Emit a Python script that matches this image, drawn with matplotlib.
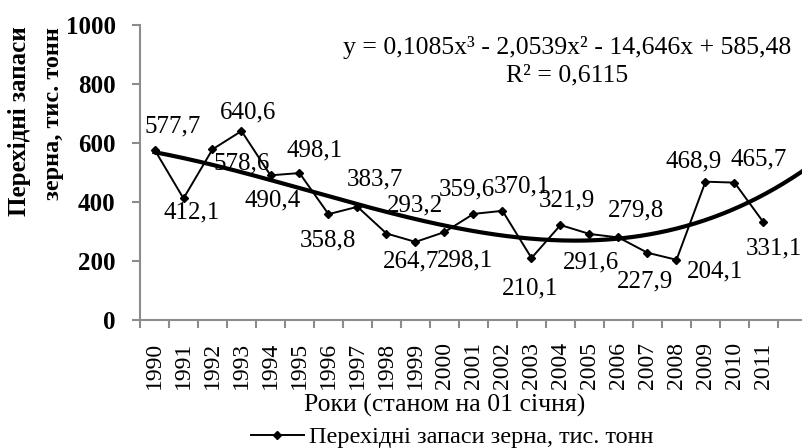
import numpy as np
import matplotlib
matplotlib.use('Agg')
import matplotlib.pyplot as plt
from matplotlib.lines import Line2D

plt.rcParams['font.family'] = ['Liberation Serif', 'DejaVu Serif']

# === DATI ===
anni = ['1990', '1991', '1992', '1993', '1994', '1995', '1996', '1997', '1998',
        '1999', '2000', '2001', '2002', '2003', '2004', '2005', '2006', '2007',
        '2008', '2009', '2010', '2011']
zapasy = [577.7, 412.1, 578.6, 640.6, 490.4, 498.1, 358.8, 383.7, 293.2,
          264.7, 298.1, 359.6, 370.1, 210.1, 321.9, 291.6, 279.8, 227.9,
          204.1, 468.9, 465.7, 331.1]
trend_coef = [0.1085, -2.0539, -14.646, 585.48]   # y = a x^3 + b x^2 + c x + d
r2 = 0.6115

# spostamento etichette (px) rispetto al punto
label_off = [(18, 23), (8, -14), (29, -14), (7, 19), (2, -25), (15, 23),
             (-1, -26), (17, 27), (29, 28), (-4, -20), (21, -28), (-7, 24),
             (19, 24), (-1, -30), (6, 25), (2, -28), (18, 27), (-2, -29),
             (39, -12), (-12, 20), (24, 23), (10, -26)]

TEXT_COLOR = 'black'
AXIS_COLOR = '#8c8c8c'

fig = plt.figure(figsize=(8.02, 4.48), dpi=100)
ax = fig.add_axes([140 / 802, 128 / 448, 667 / 802, 295 / 448])

x = np.arange(1, len(anni) + 1)
ax.plot(x, zapasy, color='black', linewidth=1.4, marker='D', markersize=4,
        zorder=3)

xt = np.linspace(1, 24, 300)
ax.plot(xt, np.polyval(trend_coef, xt), color='black', linewidth=3, zorder=2)

for xi, v, (dx, dy) in zip(x, zapasy, label_off):
    ax.annotate(f'{v:.1f}'.replace('.', ','), (xi, v),
                xytext=(dx * 0.72, dy * 0.72), textcoords='offset points',
                ha='center', va='center', fontsize=18, color=TEXT_COLOR,
                zorder=4)

ax.set_xlim(0.5, 23.5)
ax.set_ylim(0, 1000)
ax.set_yticks([0, 200, 400, 600, 800, 1000])
ax.set_xticks(x)
ax.set_xticklabels(anni, rotation=90, fontsize=17)
ax.set_xticks(np.arange(0.5, 24, 1), minor=True)
ax.tick_params(axis='x', which='major', length=0, pad=16)
ax.tick_params(axis='x', which='minor', length=5.5, width=1.5,
               color=AXIS_COLOR, direction='out')
ax.tick_params(axis='y', length=5.5, width=1.5, color=AXIS_COLOR,
               labelsize=18, pad=12)
for lab in ax.get_yticklabels():
    lab.set_fontweight('bold')

for s in ['top', 'right']:
    ax.spines[s].set_visible(False)
for s in ['left', 'bottom']:
    ax.spines[s].set_color(AXIS_COLOR)
    ax.spines[s].set_linewidth(1.5)

# titolo asse Y (due righe)
fig.text(20 / 802, 1 - 121 / 448, 'Перехідні запаси', rotation=90,
         ha='center', va='center', fontsize=18, fontweight='bold')
fig.text(53 / 802, 1 - 114 / 448, 'зерна, тис. тонн', rotation=90,
         ha='center', va='center', fontsize=17.5, fontweight='bold')

fig.text(445 / 802, 1 - 405 / 448, 'Роки (станом на 01 січня)',
         ha='center', va='center', fontsize=18.5)

coef_txt = ('y = 0,1085x³ - 2,0539x² - 14,646x + 585,48\nR² = '
            + f'{r2:.4f}'.replace('.', ','))
fig.text(567 / 802, 1 - 61 / 448, coef_txt, ha='center', va='center',
         multialignment='center', fontsize=18.5, linespacing=1.3)

h = Line2D([], [], color='black', linewidth=1.4, marker='D', markersize=4)
fig.legend(handles=[h], labels=['Перехідні запаси зерна, тис. тонн'],
           loc='center', bbox_to_anchor=(452 / 802, 1 - 437 / 448),
           frameon=False, fontsize=17.5, handlelength=2.2, handletextpad=0.2,
           borderpad=0)

fig.savefig('out.png', dpi=100)
